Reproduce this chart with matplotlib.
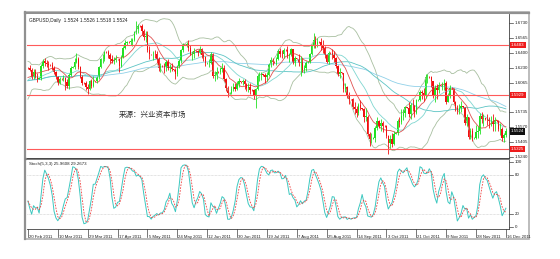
import numpy as np
import pandas as pd
import matplotlib
matplotlib.use("Agg")
import matplotlib.pyplot as plt
from matplotlib.patches import Rectangle

plt.rcParams['font.family'] = ['Liberation Sans', 'DejaVu Sans']

# ---- data: GBPUSD daily bars (Sun-Fri), 20 Feb 2011 - 16 Dec 2011 ----
pre_close = [1.5980, 1.5850, 1.5855, 1.6030, 1.6130, 1.6150, 1.6180, 1.6120, 1.6115, 1.6110,
             1.6080, 1.6150, 1.6050, 1.6010, 1.6015, 1.6040, 1.6110, 1.6170, 1.6240, 1.6235]

close = [
    1.6228, 1.6212, 1.6128, 1.6190, 1.6135, 1.6110,
    1.6118, 1.6255, 1.6305, 1.6290, 1.6275, 1.6265,
    1.6262, 1.6235, 1.6180, 1.6125, 1.6065, 1.6110,
    1.6105, 1.6122, 1.6072, 1.6035, 1.6150, 1.6235,
    1.6240, 1.6300, 1.6330, 1.6240, 1.6135, 1.6065,
    1.6060, 1.6015, 1.6000, 1.6082, 1.6032, 1.6085,
    1.6080, 1.6125, 1.6240, 1.6330, 1.6335, 1.6410,
    1.6405, 1.6370, 1.6335, 1.6310, 1.6320, 1.6330,
    1.6325, 1.6255, 1.6350, 1.6455, 1.6510, 1.6520,
    1.6515, 1.6525, 1.6540, 1.6625, 1.6665, 1.6700,
    1.6695, 1.6640, 1.6570, 1.6590, 1.6430, 1.6385,
    1.6380, 1.6385, 1.6380, 1.6335, 1.6230, 1.6255,
    1.6250, 1.6240, 1.6300, 1.6225, 1.6245, 1.6215,
    1.6210, 1.6160, 1.6250, 1.6310, 1.6430, 1.6495,
    1.6490, 1.6500, 1.6450, 1.6385, 1.6390, 1.6420,
    1.6415, 1.6400, 1.6440, 1.6370, 1.6355, 1.6280,
    1.6285, 1.6290, 1.6390, 1.6140, 1.6150, 1.6190,
    1.6185, 1.6220, 1.6230, 1.6110, 1.6010, 1.5950,
    1.5955, 1.5995, 1.6020, 1.6000, 1.6050, 1.6080,
    1.6075, 1.6085, 1.6050, 1.6010, 1.6015, 1.5990,
    1.5985, 1.5915, 1.6000, 1.6140, 1.6150, 1.6160,
    1.6155, 1.6125, 1.6150, 1.6275, 1.6315, 1.6300,
    1.6295, 1.6330, 1.6420, 1.6390, 1.6380, 1.6435,
    1.6430, 1.6360, 1.6390, 1.6440, 1.6290, 1.6340,
    1.6335, 1.6290, 1.6300, 1.6210, 1.6230, 1.6290,
    1.6295, 1.6385, 1.6480, 1.6540, 1.6500, 1.6520,
    1.6515, 1.6480, 1.6450, 1.6370, 1.6300, 1.6400,
    1.6395, 1.6370, 1.6340, 1.6250, 1.6160, 1.6180,
    1.6175, 1.6000, 1.6020, 1.5920, 1.5885,
    1.5880, 1.5800, 1.5775, 1.5730, 1.5815, 1.5780,
    1.5775, 1.5690, 1.5690, 1.5500, 1.5440, 1.5440,
    1.5450, 1.5565, 1.5640, 1.5590, 1.5620, 1.5590,
    1.5585, 1.5470, 1.5400, 1.5440, 1.5380, 1.5500,
    1.5510, 1.5640, 1.5630, 1.5700, 1.5730, 1.5795,
    1.5790, 1.5720, 1.5820, 1.5815, 1.5730, 1.5870,
    1.5875, 1.5960, 1.5950, 1.5920, 1.6130, 1.6135,
    1.6130, 1.6080, 1.5920, 1.6010, 1.5990, 1.6040,
    1.6035, 1.6040, 1.6065, 1.5850, 1.5930, 1.6010,
    1.6005, 1.5850, 1.5780, 1.5750, 1.5790, 1.5810,
    1.5800, 1.5620, 1.5680, 1.5460, 1.5530, 1.5450,
    1.5455, 1.5520, 1.5530, 1.5700, 1.5660, 1.5670,
    1.5665, 1.5650, 1.5635, 1.5640, 1.5610, 1.5650,
    1.5640, 1.5550, 1.5550, 1.5450, 1.5480, 1.5524,
]

high = [
    1.6240, 1.6262, 1.6235, 1.6215, 1.6222, 1.6175,
    1.6125, 1.6270, 1.6330, 1.6340, 1.6320, 1.6310,
    1.6270, 1.6300, 1.6250, 1.6200, 1.6140, 1.6130,
    1.6115, 1.6150, 1.6130, 1.6110, 1.6170, 1.6255,
    1.6250, 1.6340, 1.6400, 1.6350, 1.6255, 1.6150,
    1.6070, 1.6080, 1.6050, 1.6100, 1.6110, 1.6145,
    1.6090, 1.6140, 1.6255, 1.6345, 1.6380, 1.6420,
    1.6415, 1.6425, 1.6395, 1.6370, 1.6350, 1.6370,
    1.6335, 1.6330, 1.6370, 1.6475, 1.6545, 1.6535,
    1.6525, 1.6560, 1.6565, 1.6640, 1.6747, 1.6715,
    1.6705, 1.6720, 1.6660, 1.6640, 1.6640, 1.6470,
    1.6390, 1.6420, 1.6430, 1.6420, 1.6350, 1.6290,
    1.6260, 1.6280, 1.6320, 1.6330, 1.6270, 1.6280,
    1.6220, 1.6230, 1.6265, 1.6330, 1.6445, 1.6510,
    1.6500, 1.6520, 1.6545, 1.6480, 1.6420, 1.6450,
    1.6425, 1.6430, 1.6475, 1.6450, 1.6410, 1.6365,
    1.6295, 1.6330, 1.6410, 1.6395, 1.6200, 1.6240,
    1.6195, 1.6240, 1.6280, 1.6260, 1.6120, 1.6030,
    1.5965, 1.6030, 1.6060, 1.6060, 1.6080, 1.6120,
    1.6085, 1.6110, 1.6110, 1.6060, 1.6060, 1.6060,
    1.5995, 1.6000, 1.6010, 1.6160, 1.6185, 1.6185,
    1.6165, 1.6170, 1.6180, 1.6290, 1.6350, 1.6345,
    1.6305, 1.6350, 1.6440, 1.6450, 1.6430, 1.6450,
    1.6440, 1.6475, 1.6400, 1.6450, 1.6445, 1.6360,
    1.6345, 1.6390, 1.6360, 1.6340, 1.6260, 1.6310,
    1.6305, 1.6400, 1.6500, 1.6617, 1.6580, 1.6560,
    1.6525, 1.6560, 1.6540, 1.6470, 1.6390, 1.6420,
    1.6405, 1.6440, 1.6420, 1.6350, 1.6260, 1.6230,
    1.6185, 1.6150, 1.6060, 1.6030, 1.5960,
    1.5890, 1.5900, 1.5850, 1.5810, 1.5840, 1.5870,
    1.5785, 1.5780, 1.5780, 1.5710, 1.5520, 1.5510,
    1.5460, 1.5590, 1.5690, 1.5650, 1.5660, 1.5640,
    1.5595, 1.5600, 1.5480, 1.5480, 1.5510, 1.5530,
    1.5520, 1.5660, 1.5690, 1.5770, 1.5770, 1.5810,
    1.5800, 1.5850, 1.5840, 1.5880, 1.5810, 1.5890,
    1.5885, 1.5980, 1.5990, 1.6010, 1.6160, 1.6165,
    1.6140, 1.6140, 1.6080, 1.6040, 1.6050, 1.6070,
    1.6045, 1.6070, 1.6110, 1.6080, 1.5950, 1.6040,
    1.6015, 1.6010, 1.5860, 1.5820, 1.5830, 1.5860,
    1.5810, 1.5790, 1.5720, 1.5660, 1.5560, 1.5560,
    1.5465, 1.5600, 1.5590, 1.5730, 1.5740, 1.5720,
    1.5675, 1.5720, 1.5680, 1.5700, 1.5720, 1.5680,
    1.5650, 1.5650, 1.5620, 1.5570, 1.5510, 1.5560,
]

low = [
    1.6220, 1.6195, 1.6105, 1.6112, 1.6120, 1.6075,
    1.6105, 1.6100, 1.6230, 1.6255, 1.6240, 1.6210,
    1.6255, 1.6205, 1.6160, 1.6105, 1.6045, 1.6050,
    1.6095, 1.6080, 1.5980, 1.6010, 1.6000, 1.6140,
    1.6230, 1.6215, 1.6290, 1.6215, 1.6120, 1.6045,
    1.6050, 1.5985, 1.5935, 1.5990, 1.6010, 1.6015,
    1.6070, 1.6060, 1.6110, 1.6225, 1.6290, 1.6310,
    1.6395, 1.6340, 1.6290, 1.6280, 1.6270, 1.6295,
    1.6315, 1.6190, 1.6240, 1.6340, 1.6440, 1.6490,
    1.6505, 1.6490, 1.6475, 1.6525, 1.6610, 1.6620,
    1.6685, 1.6600, 1.6545, 1.6520, 1.6410, 1.6330,
    1.6370, 1.6320, 1.6340, 1.6290, 1.6200, 1.6190,
    1.6240, 1.6170, 1.6200, 1.6210, 1.6180, 1.6200,
    1.6200, 1.6110, 1.6140, 1.6225, 1.6290, 1.6410,
    1.6480, 1.6460, 1.6420, 1.6370, 1.6320, 1.6340,
    1.6405, 1.6360, 1.6380, 1.6340, 1.6310, 1.6255,
    1.6275, 1.6245, 1.6270, 1.6120, 1.6080, 1.6110,
    1.6175, 1.6160, 1.6190, 1.6085, 1.5970, 1.5910,
    1.5945, 1.5935, 1.5975, 1.5970, 1.5990, 1.6020,
    1.6065, 1.6040, 1.6000, 1.5970, 1.5960, 1.5940,
    1.5975, 1.5880, 1.5780, 1.5990, 1.6080, 1.6100,
    1.6145, 1.6060, 1.6090, 1.6140, 1.6240, 1.6260,
    1.6285, 1.6260, 1.6320, 1.6350, 1.6340, 1.6340,
    1.6420, 1.6340, 1.6300, 1.6360, 1.6270, 1.6250,
    1.6325, 1.6250, 1.6140, 1.6190, 1.6170, 1.6200,
    1.6285, 1.6280, 1.6370, 1.6450, 1.6450, 1.6460,
    1.6505, 1.6430, 1.6400, 1.6340, 1.6280, 1.6270,
    1.6385, 1.6330, 1.6300, 1.6230, 1.6140, 1.6120,
    1.6165, 1.5960, 1.5960, 1.5900, 1.5830,
    1.5870, 1.5770, 1.5720, 1.5690, 1.5710, 1.5760,
    1.5765, 1.5630, 1.5640, 1.5470, 1.5360, 1.5400,
    1.5440, 1.5410, 1.5540, 1.5560, 1.5530, 1.5520,
    1.5575, 1.5450, 1.5272, 1.5340, 1.5350, 1.5370,
    1.5500, 1.5490, 1.5570, 1.5610, 1.5650, 1.5690,
    1.5780, 1.5690, 1.5660, 1.5750, 1.5690, 1.5720,
    1.5865, 1.5860, 1.5880, 1.5860, 1.5900, 1.6060,
    1.6120, 1.6020, 1.5900, 1.5850, 1.5880, 1.5950,
    1.6025, 1.5990, 1.5990, 1.5830, 1.5850, 1.5900,
    1.5995, 1.5830, 1.5750, 1.5720, 1.5720, 1.5740,
    1.5790, 1.5600, 1.5590, 1.5440, 1.5440, 1.5420,
    1.5445, 1.5440, 1.5450, 1.5500, 1.5620, 1.5580,
    1.5655, 1.5600, 1.5560, 1.5580, 1.5530, 1.5530,
    1.5630, 1.5530, 1.5480, 1.5420, 1.5410, 1.5460,
]

price_ticks = [1.6730, 1.6565, 1.6400, 1.6230, 1.6065, 1.5735, 1.5570, 1.5405, 1.5240]
red_levels = [1.6483, 1.5929, 1.5325]
last_price = 1.5524
stoch_ticks = [100, 80, 20, 0]
header = "GBPUSD,Daily  1.5524 1.5526 1.5518 1.5524"
stoch_header = "Stoch(5,3,3) 25.9608 29.2673"
source_text = "来源：兴业资本市场"

# ---- bars / dates ----
days = pd.date_range("2011-02-20", "2011-12-16", freq="D")
days = days[(days.dayofweek != 5) & (days != pd.Timestamp("2011-09-05"))]
n = len(close)
x = np.arange(n)
c = np.array(close)
o = np.concatenate([[pre_close[-1]], c[:-1]])
h = np.maximum(np.array(high), np.maximum(o, c))
l = np.minimum(np.array(low), np.minimum(o, c))

allc = pd.Series(pre_close + close)
npre = len(pre_close)
ma10 = allc.rolling(10, min_periods=1).mean().values[npre:]
mid20 = allc.rolling(20, min_periods=1).mean()
sd20 = allc.rolling(20, min_periods=2).std(ddof=0)
bb_up = (mid20 + 2 * sd20).values[npre:]
bb_dn = (mid20 - 2 * sd20).values[npre:]
ma20 = mid20.values[npre:]
ma50 = allc.rolling(50, min_periods=1).mean().values[npre:]
ma100 = allc.rolling(100, min_periods=1).mean().values[npre:]

# stochastic 5,3,3
hs, ls, cs = pd.Series(h), pd.Series(l), pd.Series(c)
hh = hs.rolling(5, min_periods=1).max()
ll = ls.rolling(5, min_periods=1).min()
num = (cs - ll).rolling(3, min_periods=1).sum()
den = (hh - ll).rolling(3, min_periods=1).sum()
k = (100 * num / den).values
d = pd.Series(k).rolling(3, min_periods=1).mean().values

# ---- figure ----
W, H = 560, 259
fig = plt.figure(figsize=(W / 100, H / 100), dpi=100)
fig.patch.set_facecolor("white")

bg = fig.add_axes([0, 0, 1, 1])
bg.set_xlim(0, W)
bg.set_ylim(H, 0)
bg.axis("off")
# outer frame
bg.add_patch(Rectangle((25, 12), 504, 227, fill=False, edgecolor="#b0b0b0", lw=1.2))
bg.plot([25, 25], [12, 239], color="#909090", lw=1.6)
bg.plot([25, 529], [12.5, 12.5], color="#909090", lw=1.6)
bg.plot([26, 509], [159, 159], color="#808080", lw=1.6)

x0, x1 = 27, 509
ax = fig.add_axes([x0 / W, 1 - 158 / H, (x1 - x0) / W, (158 - 14) / H])
sx = fig.add_axes([x0 / W, 1 - 229 / H, (x1 - x0) / W, (229 - 160) / H])

pxbar = 1.867
xlim = (-0.5, -0.5 + (x1 - x0) / pxbar)

for a in (ax, sx):
    a.set_xlim(*xlim)
    a.set_xticks([])
    a.set_yticks([])
    for s in ("top", "left"):
        a.spines[s].set_visible(False)
    a.spines["right"].set_color("#404040")
    a.spines["right"].set_linewidth(0.6)
    a.spines["bottom"].set_color("#404040")
    a.spines["bottom"].set_linewidth(0.6)

ax.set_ylim(1.5229, 1.6830)
sx.set_ylim(-3, 103)

# indicators
lw = 0.6
ax.plot(x, bb_up, color="#a8bfa0", lw=lw)
ax.plot(x, bb_dn, color="#a8bfa0", lw=lw)
ax.plot(x, ma100, color="#8fd0e8", lw=lw)
ax.plot(x, ma50, color="#5cc4c4", lw=lw)
ax.plot(x, ma20, color="#7fd6d0", lw=lw)
ax.plot(x, ma10, color="#e05050", lw=lw)

# candles
up = c >= o
colors = np.where(up, "#22e022", "#f01010")
ax.vlines(x, l, h, colors=colors, lw=0.6)
ax.bar(x, np.maximum(np.abs(c - o), 0.0002), bottom=np.minimum(o, c), width=0.75,
       color=colors, edgecolor="none")

# red levels
for lv in red_levels:
    ax.axhline(lv, color="#ff5a5a", lw=0.8)

# price scale
tr = ax.get_yaxis_transform()
for p in price_ticks:
    ax.plot([1.0, 1.008], [p, p], transform=tr, color="#404040", lw=0.5, clip_on=False)
    ax.text(1.012, p, f"{p:.4f}", transform=tr, fontsize=3.2, va="center", ha="left",
            color="#202020", clip_on=False)
for lv in red_levels:
    ax.text(1.004, lv, f"{lv:.4f}", transform=tr, fontsize=3.2, va="center", ha="left",
            color="white", clip_on=False,
            bbox=dict(boxstyle="square,pad=0.25", fc="#ee1c1c", ec="none"))
ax.text(1.004, last_price, f"{last_price:.4f}", transform=tr, fontsize=3.2, va="center",
        ha="left", color="white", clip_on=False,
        bbox=dict(boxstyle="square,pad=0.25", fc="#101010", ec="none"))

ax.text(0.004, 0.975, header, transform=ax.transAxes, fontsize=3.4, va="top", ha="left",
        color="#202020")
ax.text(0.19, 0.30, source_text, transform=ax.transAxes, fontsize=5.4, va="center",
        ha="left", color="#303030", family=["Noto Sans CJK SC", "DejaVu Sans"])

# stochastic
sx.axhline(80, color="#c8c8c8", lw=0.5, ls=(0, (1, 1)))
sx.axhline(20, color="#c8c8c8", lw=0.5, ls=(0, (1, 1)))
sx.plot(x, k, color="#3cc8c0", lw=0.7)
sx.plot(x, d, color="#f04040", lw=0.6, ls=(0, (2, 1.5)))
sx.text(0.004, 0.97, stoch_header, transform=sx.transAxes, fontsize=3.2, va="top",
        ha="left", color="#202020")
str_ = sx.get_yaxis_transform()
for v in stoch_ticks:
    sx.plot([1.0, 1.008], [v, v], transform=str_, color="#404040", lw=0.5, clip_on=False)
    sx.text(1.012, v, str(v), transform=str_, fontsize=3.2, va="center", ha="left",
            color="#202020", clip_on=False)

# date labels every 16 bars
for i in range(0, n, 16):
    sx.plot([i, i], [0, -0.12], transform=sx.get_xaxis_transform(), color="#404040",
            lw=0.5, clip_on=False)
    lab = f"{days[i].day} {days[i].strftime('%b %Y')}"
    sx.text(i + 0.6, -0.08, lab, transform=sx.get_xaxis_transform(), fontsize=3.1,
            va="top", ha="left", color="#202020", clip_on=False)

fig.savefig("out.png", dpi=100, facecolor="white")
